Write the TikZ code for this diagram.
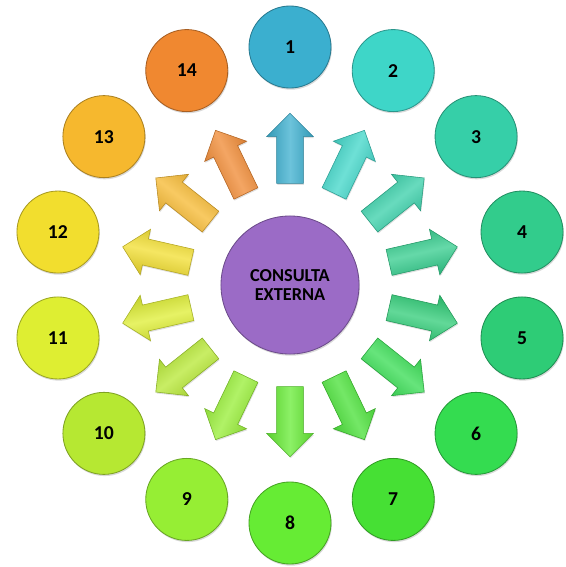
\documentclass[tikz,border=0pt]{standalone}
\usepackage{fontspec}
\setmainfont{Carlito}
\usetikzlibrary{shapes.arrows,shadows}

\definecolor{col1}{RGB}{59,175,207}
\definecolor{col2}{RGB}{62,214,200}
\definecolor{col3}{RGB}{54,207,168}
\definecolor{col4}{RGB}{50,204,140}
\definecolor{col5}{RGB}{46,204,118}
\definecolor{col6}{RGB}{52,220,80}
\definecolor{col7}{RGB}{70,224,52}
\definecolor{col8}{RGB}{102,236,52}
\definecolor{col9}{RGB}{150,238,52}
\definecolor{col10}{RGB}{182,232,50}
\definecolor{col11}{RGB}{222,238,50}
\definecolor{col12}{RGB}{242,222,46}
\definecolor{col13}{RGB}{246,184,46}
\definecolor{col14}{RGB}{240,136,48}
\definecolor{hubcol}{RGB}{155,107,198}

\tikzset{
  ball/.style={circle, minimum size=2.05cm, inner sep=0pt, fill=#1, draw=#1!70!black, line width=0.6pt,
    drop shadow={opacity=0.3, shadow xshift=0.6pt, shadow yshift=-1.2pt},
    font=\fontsize{14}{16}\selectfont\bfseries},
  hub/.style={ball=hubcol, minimum size=3.45cm, align=center, font=\fontsize{13}{14}\selectfont\bfseries},
  blockarrow/.style={single arrow, minimum height=1.75cm, inner sep=0.325cm, single arrow head extend=0.25cm,
    top color=#1!88!black, bottom color=#1!88!black, middle color=#1!75!white, draw=#1!75!black, line width=0.4pt,
    drop shadow={opacity=0.25, shadow xshift=0.5pt, shadow yshift=-1pt}}
}

\begin{document}
\begin{tikzpicture}[x=0.025cm, y=0.025cm]
    \useasboundingbox (-290,-282) rectangle (276,285);
    \node [hub] (consulta) at (0,0) {CONSULTA\\EXTERNA};
    % arrows around the hub
    \node [blockarrow=col1, rotate=90, shading angle=90] (a1) at (90:130) {};
    \node [blockarrow=col2, rotate=64.29, shading angle=64.29] (a2) at (64.29:130) {};
    \node [blockarrow=col3, rotate=38.57, shading angle=38.57] (a3) at (38.57:130) {};
    \node [blockarrow=col4, rotate=12.86, shading angle=12.86] (a4) at (12.86:130) {};
    \node [blockarrow=col5, rotate=-12.86, shading angle=-12.86] (a5) at (-12.86:130) {};
    \node [blockarrow=col6, rotate=-38.57, shading angle=-38.57] (a6) at (-38.57:130) {};
    \node [blockarrow=col7, rotate=-64.29, shading angle=-64.29] (a7) at (-64.29:130) {};
    \node [blockarrow=col8, rotate=-90, shading angle=-90] (a8) at (-90:130) {};
    \node [blockarrow=col9, rotate=-115.71, shading angle=-115.71] (a9) at (-115.71:130) {};
    \node [blockarrow=col10, rotate=-141.43, shading angle=-141.43] (a10) at (-141.43:130) {};
    \node [blockarrow=col11, rotate=-167.14, shading angle=-167.14] (a11) at (-167.14:130) {};
    \node [blockarrow=col12, rotate=167.14, shading angle=167.14] (a12) at (167.14:130) {};
    \node [blockarrow=col13, rotate=141.43, shading angle=141.43] (a13) at (141.43:130) {};
    \node [blockarrow=col14, rotate=115.71, shading angle=115.71] (a14) at (115.71:130) {};
    % outer circles
    \node [ball=col1] (n1) at (90:238) {1};
    \node [ball=col2] (n2) at (64.29:238) {2};
    \node [ball=col3] (n3) at (38.57:238) {3};
    \node [ball=col4] (n4) at (12.86:238) {4};
    \node [ball=col5] (n5) at (-12.86:238) {5};
    \node [ball=col6] (n6) at (-38.57:238) {6};
    \node [ball=col7] (n7) at (-64.29:238) {7};
    \node [ball=col8] (n8) at (-90:238) {8};
    \node [ball=col9] (n9) at (-115.71:238) {9};
    \node [ball=col10] (n10) at (-141.43:238) {10};
    \node [ball=col11] (n11) at (-167.14:238) {11};
    \node [ball=col12] (n12) at (167.14:238) {12};
    \node [ball=col13] (n13) at (141.43:238) {13};
    \node [ball=col14] (n14) at (115.71:238) {14};
\end{tikzpicture}
\end{document}
